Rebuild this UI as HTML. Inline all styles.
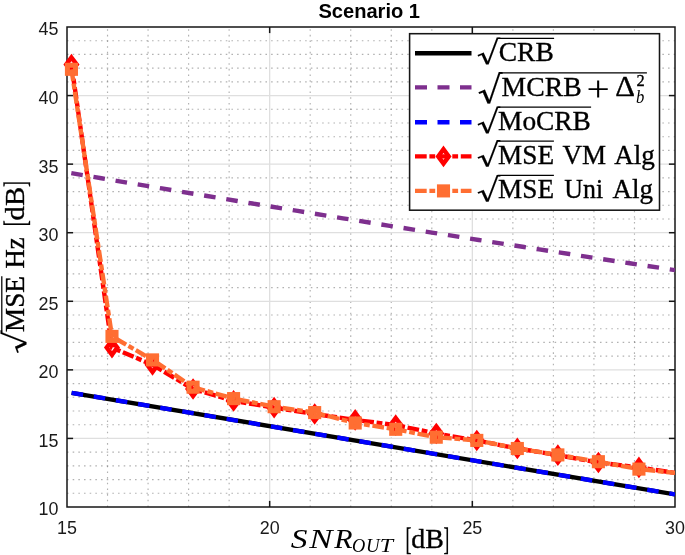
<!DOCTYPE html>
<html lang="en"><head><meta charset="utf-8"><title>Scenario 1</title>
<style>html,body{margin:0;padding:0;background:#fff;}body{width:685px;height:555px;overflow:hidden;}svg{display:block;will-change:transform;}text{white-space:pre;}</style>
</head><body>
<svg width="685" height="555" viewBox="0 0 685 555">
<rect x="0" y="0" width="685" height="555" fill="#ffffff"/>
<g fill="none" shape-rendering="auto">
<line x1="107.53" y1="507.00" x2="107.53" y2="27.00" stroke="#262626" stroke-opacity="0.36" stroke-width="1.15" stroke-dasharray="1.55 4.12"/>
<line x1="148.07" y1="507.00" x2="148.07" y2="27.00" stroke="#262626" stroke-opacity="0.36" stroke-width="1.15" stroke-dasharray="1.55 4.12"/>
<line x1="188.60" y1="507.00" x2="188.60" y2="27.00" stroke="#262626" stroke-opacity="0.36" stroke-width="1.15" stroke-dasharray="1.55 4.12"/>
<line x1="229.13" y1="507.00" x2="229.13" y2="27.00" stroke="#262626" stroke-opacity="0.36" stroke-width="1.15" stroke-dasharray="1.55 4.12"/>
<line x1="310.20" y1="507.00" x2="310.20" y2="27.00" stroke="#262626" stroke-opacity="0.36" stroke-width="1.15" stroke-dasharray="1.55 4.12"/>
<line x1="350.73" y1="507.00" x2="350.73" y2="27.00" stroke="#262626" stroke-opacity="0.36" stroke-width="1.15" stroke-dasharray="1.55 4.12"/>
<line x1="391.27" y1="507.00" x2="391.27" y2="27.00" stroke="#262626" stroke-opacity="0.36" stroke-width="1.15" stroke-dasharray="1.55 4.12"/>
<line x1="431.80" y1="507.00" x2="431.80" y2="27.00" stroke="#262626" stroke-opacity="0.36" stroke-width="1.15" stroke-dasharray="1.55 4.12"/>
<line x1="512.87" y1="507.00" x2="512.87" y2="27.00" stroke="#262626" stroke-opacity="0.36" stroke-width="1.15" stroke-dasharray="1.55 4.12"/>
<line x1="553.40" y1="507.00" x2="553.40" y2="27.00" stroke="#262626" stroke-opacity="0.36" stroke-width="1.15" stroke-dasharray="1.55 4.12"/>
<line x1="593.93" y1="507.00" x2="593.93" y2="27.00" stroke="#262626" stroke-opacity="0.36" stroke-width="1.15" stroke-dasharray="1.55 4.12"/>
<line x1="634.47" y1="507.00" x2="634.47" y2="27.00" stroke="#262626" stroke-opacity="0.36" stroke-width="1.15" stroke-dasharray="1.55 4.12"/>
<line x1="67.00" y1="493.29" x2="675.00" y2="493.29" stroke="#262626" stroke-opacity="0.36" stroke-width="1.15" stroke-dasharray="1.55 4.12"/>
<line x1="67.00" y1="479.57" x2="675.00" y2="479.57" stroke="#262626" stroke-opacity="0.36" stroke-width="1.15" stroke-dasharray="1.55 4.12"/>
<line x1="67.00" y1="465.86" x2="675.00" y2="465.86" stroke="#262626" stroke-opacity="0.36" stroke-width="1.15" stroke-dasharray="1.55 4.12"/>
<line x1="67.00" y1="452.14" x2="675.00" y2="452.14" stroke="#262626" stroke-opacity="0.36" stroke-width="1.15" stroke-dasharray="1.55 4.12"/>
<line x1="67.00" y1="424.71" x2="675.00" y2="424.71" stroke="#262626" stroke-opacity="0.36" stroke-width="1.15" stroke-dasharray="1.55 4.12"/>
<line x1="67.00" y1="411.00" x2="675.00" y2="411.00" stroke="#262626" stroke-opacity="0.36" stroke-width="1.15" stroke-dasharray="1.55 4.12"/>
<line x1="67.00" y1="397.29" x2="675.00" y2="397.29" stroke="#262626" stroke-opacity="0.36" stroke-width="1.15" stroke-dasharray="1.55 4.12"/>
<line x1="67.00" y1="383.57" x2="675.00" y2="383.57" stroke="#262626" stroke-opacity="0.36" stroke-width="1.15" stroke-dasharray="1.55 4.12"/>
<line x1="67.00" y1="356.14" x2="675.00" y2="356.14" stroke="#262626" stroke-opacity="0.36" stroke-width="1.15" stroke-dasharray="1.55 4.12"/>
<line x1="67.00" y1="342.43" x2="675.00" y2="342.43" stroke="#262626" stroke-opacity="0.36" stroke-width="1.15" stroke-dasharray="1.55 4.12"/>
<line x1="67.00" y1="328.71" x2="675.00" y2="328.71" stroke="#262626" stroke-opacity="0.36" stroke-width="1.15" stroke-dasharray="1.55 4.12"/>
<line x1="67.00" y1="315.00" x2="675.00" y2="315.00" stroke="#262626" stroke-opacity="0.36" stroke-width="1.15" stroke-dasharray="1.55 4.12"/>
<line x1="67.00" y1="287.57" x2="675.00" y2="287.57" stroke="#262626" stroke-opacity="0.36" stroke-width="1.15" stroke-dasharray="1.55 4.12"/>
<line x1="67.00" y1="273.86" x2="675.00" y2="273.86" stroke="#262626" stroke-opacity="0.36" stroke-width="1.15" stroke-dasharray="1.55 4.12"/>
<line x1="67.00" y1="260.14" x2="675.00" y2="260.14" stroke="#262626" stroke-opacity="0.36" stroke-width="1.15" stroke-dasharray="1.55 4.12"/>
<line x1="67.00" y1="246.43" x2="675.00" y2="246.43" stroke="#262626" stroke-opacity="0.36" stroke-width="1.15" stroke-dasharray="1.55 4.12"/>
<line x1="67.00" y1="219.00" x2="675.00" y2="219.00" stroke="#262626" stroke-opacity="0.36" stroke-width="1.15" stroke-dasharray="1.55 4.12"/>
<line x1="67.00" y1="205.29" x2="675.00" y2="205.29" stroke="#262626" stroke-opacity="0.36" stroke-width="1.15" stroke-dasharray="1.55 4.12"/>
<line x1="67.00" y1="191.57" x2="675.00" y2="191.57" stroke="#262626" stroke-opacity="0.36" stroke-width="1.15" stroke-dasharray="1.55 4.12"/>
<line x1="67.00" y1="177.86" x2="675.00" y2="177.86" stroke="#262626" stroke-opacity="0.36" stroke-width="1.15" stroke-dasharray="1.55 4.12"/>
<line x1="67.00" y1="150.43" x2="675.00" y2="150.43" stroke="#262626" stroke-opacity="0.36" stroke-width="1.15" stroke-dasharray="1.55 4.12"/>
<line x1="67.00" y1="136.71" x2="675.00" y2="136.71" stroke="#262626" stroke-opacity="0.36" stroke-width="1.15" stroke-dasharray="1.55 4.12"/>
<line x1="67.00" y1="123.00" x2="675.00" y2="123.00" stroke="#262626" stroke-opacity="0.36" stroke-width="1.15" stroke-dasharray="1.55 4.12"/>
<line x1="67.00" y1="109.29" x2="675.00" y2="109.29" stroke="#262626" stroke-opacity="0.36" stroke-width="1.15" stroke-dasharray="1.55 4.12"/>
<line x1="67.00" y1="81.86" x2="675.00" y2="81.86" stroke="#262626" stroke-opacity="0.36" stroke-width="1.15" stroke-dasharray="1.55 4.12"/>
<line x1="67.00" y1="68.14" x2="675.00" y2="68.14" stroke="#262626" stroke-opacity="0.36" stroke-width="1.15" stroke-dasharray="1.55 4.12"/>
<line x1="67.00" y1="54.43" x2="675.00" y2="54.43" stroke="#262626" stroke-opacity="0.36" stroke-width="1.15" stroke-dasharray="1.55 4.12"/>
<line x1="67.00" y1="40.71" x2="675.00" y2="40.71" stroke="#262626" stroke-opacity="0.36" stroke-width="1.15" stroke-dasharray="1.55 4.12"/>
<line x1="269.67" y1="27.00" x2="269.67" y2="507.00" stroke="#dfdfdf" stroke-width="1.3"/>
<line x1="472.33" y1="27.00" x2="472.33" y2="507.00" stroke="#dfdfdf" stroke-width="1.3"/>
<line x1="67.00" y1="438.43" x2="675.00" y2="438.43" stroke="#dfdfdf" stroke-width="1.3"/>
<line x1="67.00" y1="369.86" x2="675.00" y2="369.86" stroke="#dfdfdf" stroke-width="1.3"/>
<line x1="67.00" y1="301.29" x2="675.00" y2="301.29" stroke="#dfdfdf" stroke-width="1.3"/>
<line x1="67.00" y1="232.71" x2="675.00" y2="232.71" stroke="#dfdfdf" stroke-width="1.3"/>
<line x1="67.00" y1="164.14" x2="675.00" y2="164.14" stroke="#dfdfdf" stroke-width="1.3"/>
<line x1="67.00" y1="95.57" x2="675.00" y2="95.57" stroke="#dfdfdf" stroke-width="1.3"/>
</g>
<g fill="none" stroke="#161616" stroke-width="1.5">
<rect x="67.00" y="27.00" width="608.00" height="480.00"/>
<line x1="269.67" y1="507.00" x2="269.67" y2="500.90"/>
<line x1="269.67" y1="27.00" x2="269.67" y2="33.10"/>
<line x1="472.33" y1="507.00" x2="472.33" y2="500.90"/>
<line x1="472.33" y1="27.00" x2="472.33" y2="33.10"/>
<line x1="67.00" y1="438.43" x2="73.10" y2="438.43"/>
<line x1="675.00" y1="438.43" x2="668.90" y2="438.43"/>
<line x1="67.00" y1="369.86" x2="73.10" y2="369.86"/>
<line x1="675.00" y1="369.86" x2="668.90" y2="369.86"/>
<line x1="67.00" y1="301.29" x2="73.10" y2="301.29"/>
<line x1="675.00" y1="301.29" x2="668.90" y2="301.29"/>
<line x1="67.00" y1="232.71" x2="73.10" y2="232.71"/>
<line x1="675.00" y1="232.71" x2="668.90" y2="232.71"/>
<line x1="67.00" y1="164.14" x2="73.10" y2="164.14"/>
<line x1="675.00" y1="164.14" x2="668.90" y2="164.14"/>
<line x1="67.00" y1="95.57" x2="73.10" y2="95.57"/>
<line x1="675.00" y1="95.57" x2="668.90" y2="95.57"/>
</g>
<defs><clipPath id="axclip"><rect x="67.00" y="27.00" width="608.00" height="480.00"/></clipPath></defs>
<g fill="none" clip-path="url(#axclip)">
<line x1="71.60" y1="392.80" x2="675.00" y2="494.40" stroke="#000000" stroke-width="4.40"/>
<polyline points="71.30,173.10 86.39,175.68 101.48,178.25 116.58,180.81 131.67,183.37 146.76,185.91 161.86,188.45 176.95,190.98 192.04,193.51 207.13,196.02 222.23,198.53 237.32,201.03 252.41,203.52 267.50,206.01 282.60,208.48 297.69,210.95 312.78,213.41 327.87,215.86 342.97,218.31 358.06,220.74 373.15,223.17 388.24,225.59 403.34,228.01 418.43,230.41 433.52,232.81 448.61,235.20 463.71,237.58 478.80,239.96 493.89,242.32 508.98,244.68 524.07,247.03 539.17,249.37 554.26,251.71 569.35,254.03 584.45,256.35 599.54,258.66 614.63,260.97 629.72,263.26 644.82,265.55 659.91,267.83 675.00,270.10" stroke="#7e2f8e" stroke-width="4.40" stroke-dasharray="11.6 10.85" stroke-linejoin="round"/>
<line x1="71.60" y1="392.80" x2="675.00" y2="494.40" stroke="#0000ff" stroke-width="4.40" stroke-dasharray="11.6 10.85"/>
</g>
<g fill="none">
<polyline clip-path="url(#axclip)" points="71.46,64.60 111.99,347.60 152.53,364.80 193.06,389.00 233.59,400.90 274.13,407.60 314.66,414.00 355.19,419.90 395.73,425.10 436.26,433.50 476.79,440.50 517.33,448.40 557.86,455.20 598.39,462.50 638.93,467.40 675.00,472.90" stroke="#ff0000" stroke-width="4.40" stroke-dasharray="11.7 2.7 5.8 2.7" stroke-linejoin="round"/>
<path d="M71.46 57.45L76.76 64.60L71.46 71.75L66.16 64.60Z" fill="none" stroke="#ff0000" stroke-width="4.40" stroke-linejoin="miter" stroke-miterlimit="10"/>
<path d="M111.99 340.45L117.29 347.60L111.99 354.75L106.69 347.60Z" fill="none" stroke="#ff0000" stroke-width="4.40" stroke-linejoin="miter" stroke-miterlimit="10"/>
<path d="M152.53 357.65L157.83 364.80L152.53 371.95L147.23 364.80Z" fill="none" stroke="#ff0000" stroke-width="4.40" stroke-linejoin="miter" stroke-miterlimit="10"/>
<path d="M193.06 381.85L198.36 389.00L193.06 396.15L187.76 389.00Z" fill="none" stroke="#ff0000" stroke-width="4.40" stroke-linejoin="miter" stroke-miterlimit="10"/>
<path d="M233.59 393.75L238.89 400.90L233.59 408.05L228.29 400.90Z" fill="none" stroke="#ff0000" stroke-width="4.40" stroke-linejoin="miter" stroke-miterlimit="10"/>
<path d="M274.13 400.45L279.43 407.60L274.13 414.75L268.83 407.60Z" fill="none" stroke="#ff0000" stroke-width="4.40" stroke-linejoin="miter" stroke-miterlimit="10"/>
<path d="M314.66 406.85L319.96 414.00L314.66 421.15L309.36 414.00Z" fill="none" stroke="#ff0000" stroke-width="4.40" stroke-linejoin="miter" stroke-miterlimit="10"/>
<path d="M355.19 412.75L360.49 419.90L355.19 427.05L349.89 419.90Z" fill="none" stroke="#ff0000" stroke-width="4.40" stroke-linejoin="miter" stroke-miterlimit="10"/>
<path d="M395.73 417.95L401.03 425.10L395.73 432.25L390.43 425.10Z" fill="none" stroke="#ff0000" stroke-width="4.40" stroke-linejoin="miter" stroke-miterlimit="10"/>
<path d="M436.26 426.35L441.56 433.50L436.26 440.65L430.96 433.50Z" fill="none" stroke="#ff0000" stroke-width="4.40" stroke-linejoin="miter" stroke-miterlimit="10"/>
<path d="M476.79 433.35L482.09 440.50L476.79 447.65L471.49 440.50Z" fill="none" stroke="#ff0000" stroke-width="4.40" stroke-linejoin="miter" stroke-miterlimit="10"/>
<path d="M517.33 441.25L522.63 448.40L517.33 455.55L512.03 448.40Z" fill="none" stroke="#ff0000" stroke-width="4.40" stroke-linejoin="miter" stroke-miterlimit="10"/>
<path d="M557.86 448.05L563.16 455.20L557.86 462.35L552.56 455.20Z" fill="none" stroke="#ff0000" stroke-width="4.40" stroke-linejoin="miter" stroke-miterlimit="10"/>
<path d="M598.39 455.35L603.69 462.50L598.39 469.65L593.09 462.50Z" fill="none" stroke="#ff0000" stroke-width="4.40" stroke-linejoin="miter" stroke-miterlimit="10"/>
<path d="M638.93 460.25L644.23 467.40L638.93 474.55L633.63 467.40Z" fill="none" stroke="#ff0000" stroke-width="4.40" stroke-linejoin="miter" stroke-miterlimit="10"/>
<polyline clip-path="url(#axclip)" points="71.46,69.30 111.99,336.40 152.53,359.90 193.06,387.20 233.59,398.60 274.13,406.70 314.66,412.60 355.19,423.00 395.73,429.30 436.26,437.20 476.79,440.40 517.33,448.50 557.86,454.90 598.39,461.70 638.93,469.10 675.00,472.90" stroke="#ff6e32" stroke-width="4.40" stroke-dasharray="11.7 2.7 5.8 2.7" stroke-linejoin="round"/>
<rect x="67.41" y="65.25" width="8.10" height="8.10" fill="none" stroke="#ff6e32" stroke-width="5.00" stroke-linejoin="miter"/>
<rect x="107.94" y="332.35" width="8.10" height="8.10" fill="none" stroke="#ff6e32" stroke-width="5.00" stroke-linejoin="miter"/>
<rect x="148.48" y="355.85" width="8.10" height="8.10" fill="none" stroke="#ff6e32" stroke-width="5.00" stroke-linejoin="miter"/>
<rect x="189.01" y="383.15" width="8.10" height="8.10" fill="none" stroke="#ff6e32" stroke-width="5.00" stroke-linejoin="miter"/>
<rect x="229.54" y="394.55" width="8.10" height="8.10" fill="none" stroke="#ff6e32" stroke-width="5.00" stroke-linejoin="miter"/>
<rect x="270.08" y="402.65" width="8.10" height="8.10" fill="none" stroke="#ff6e32" stroke-width="5.00" stroke-linejoin="miter"/>
<rect x="310.61" y="408.55" width="8.10" height="8.10" fill="none" stroke="#ff6e32" stroke-width="5.00" stroke-linejoin="miter"/>
<rect x="351.14" y="418.95" width="8.10" height="8.10" fill="none" stroke="#ff6e32" stroke-width="5.00" stroke-linejoin="miter"/>
<rect x="391.68" y="425.25" width="8.10" height="8.10" fill="none" stroke="#ff6e32" stroke-width="5.00" stroke-linejoin="miter"/>
<rect x="432.21" y="433.15" width="8.10" height="8.10" fill="none" stroke="#ff6e32" stroke-width="5.00" stroke-linejoin="miter"/>
<rect x="472.74" y="436.35" width="8.10" height="8.10" fill="none" stroke="#ff6e32" stroke-width="5.00" stroke-linejoin="miter"/>
<rect x="513.28" y="444.45" width="8.10" height="8.10" fill="none" stroke="#ff6e32" stroke-width="5.00" stroke-linejoin="miter"/>
<rect x="553.81" y="450.85" width="8.10" height="8.10" fill="none" stroke="#ff6e32" stroke-width="5.00" stroke-linejoin="miter"/>
<rect x="594.34" y="457.65" width="8.10" height="8.10" fill="none" stroke="#ff6e32" stroke-width="5.00" stroke-linejoin="miter"/>
<rect x="634.88" y="465.05" width="8.10" height="8.10" fill="none" stroke="#ff6e32" stroke-width="5.00" stroke-linejoin="miter"/>
</g>
<g font-family='"Liberation Sans", sans-serif' font-size="17.90" fill="#1a1a1a">
<text x="58.5" y="515.40" text-anchor="end">10</text>
<text x="58.5" y="446.83" text-anchor="end">15</text>
<text x="58.5" y="378.26" text-anchor="end">20</text>
<text x="58.5" y="309.69" text-anchor="end">25</text>
<text x="58.5" y="241.11" text-anchor="end">30</text>
<text x="58.5" y="172.54" text-anchor="end">35</text>
<text x="58.5" y="103.97" text-anchor="end">40</text>
<text x="58.5" y="35.40" text-anchor="end">45</text>
<text x="67.00" y="534.3" text-anchor="middle">15</text>
<text x="269.67" y="534.3" text-anchor="middle">20</text>
<text x="472.33" y="534.3" text-anchor="middle">25</text>
<text x="675.00" y="534.3" text-anchor="middle">30</text>
</g>
<text x="369.2" y="18" text-anchor="middle" font-family='"Liberation Sans", sans-serif' font-weight="bold" font-size="20.1" fill="#000000">Scenario 1</text>
<g font-family='"Liberation Serif", serif' fill="#000000" stroke="#000000" stroke-width="0.35">
<text x="290.70" y="548.30" font-size="27.80" textLength="16.70" lengthAdjust="spacingAndGlyphs" font-style="italic" stroke="none">S</text>
<text x="309.20" y="548.30" font-size="27.80" textLength="23.30" lengthAdjust="spacingAndGlyphs" font-style="italic" stroke="none">N</text>
<text x="334.20" y="548.30" font-size="27.80" textLength="18.30" lengthAdjust="spacingAndGlyphs" font-style="italic" stroke="none">R</text>
<text x="352.10" y="551.80" font-size="18.90" textLength="13.30" lengthAdjust="spacingAndGlyphs" font-style="italic" stroke="none">O</text>
<text x="365.90" y="551.80" font-size="18.90" textLength="13.60" lengthAdjust="spacingAndGlyphs" font-style="italic" stroke="none">U</text>
<text x="379.80" y="551.80" font-size="18.90" textLength="13.30" lengthAdjust="spacingAndGlyphs" font-style="italic" stroke="none">T</text>
<text transform="translate(405.55 550.33) scale(0.1783 0.3134)" x="0" y="0" font-size="100" stroke-width="1.00">[</text>
<text x="411.20" y="548.00" font-size="27.80" textLength="32.60" lengthAdjust="spacingAndGlyphs">dB</text>
<text transform="translate(443.41 550.33) scale(0.1727 0.3134)" x="0" y="0" font-size="100" stroke-width="1.00">]</text>
</g>
<g transform="translate(23.7 352.8) rotate(-90)" font-family='"Liberation Serif", serif' fill="#000000" stroke="#000000" stroke-width="0.35">
<text transform="translate(-2.84 0.72) scale(0.3552 0.2977)" x="0" y="0" font-size="100" font-family='"DejaVu Math TeX Gyre", "DejaVu Serif", "Liberation Serif", serif'>√</text>
<line x1="20.00" y1="-21.90" x2="76.60" y2="-21.90" stroke="#000" stroke-width="1.25"/>
<text x="20.80" y="0.00" font-size="27.80" textLength="55.90" lengthAdjust="spacingAndGlyphs">MSE</text>
<text x="84.20" y="0.00" font-size="27.80" textLength="31.10" lengthAdjust="spacingAndGlyphs">Hz</text>
<text transform="translate(126.55 2.05) scale(0.1783 0.3195)" x="0" y="0" font-size="100" stroke-width="1.00">[</text>
<text x="132.40" y="0.00" font-size="27.80" textLength="33.50" lengthAdjust="spacingAndGlyphs">dB</text>
<text transform="translate(165.69 2.05) scale(0.1773 0.3195)" x="0" y="0" font-size="100" stroke-width="1.00">]</text>
</g>
<rect x="409.60" y="33.70" width="249.90" height="176.50" fill="#ffffff" stroke="#161616" stroke-width="1.55"/>
<g fill="none">
<line x1="415.00" y1="53.20" x2="471.50" y2="53.20" stroke="#000" stroke-width="4.40"/>
<line x1="415.00" y1="87.40" x2="471.50" y2="87.40" stroke="#7e2f8e" stroke-width="4.40" stroke-dasharray="12 10.5"/>
<line x1="415.00" y1="122.20" x2="471.50" y2="122.20" stroke="#0000ff" stroke-width="4.40" stroke-dasharray="12 10.5"/>
<line x1="415.00" y1="156.40" x2="471.50" y2="156.40" stroke="#ff0000" stroke-width="4.40" stroke-dasharray="11.7 2.7 5.8 2.7"/>
<path d="M443.50 149.25L448.80 156.40L443.50 163.55L438.20 156.40Z" fill="none" stroke="#ff0000" stroke-width="4.40" stroke-linejoin="miter" stroke-miterlimit="10"/>
<line x1="415.00" y1="190.90" x2="471.50" y2="190.90" stroke="#ff6e32" stroke-width="4.40" stroke-dasharray="11.7 2.7 5.8 2.7"/>
<rect x="439.45" y="186.85" width="8.10" height="8.10" fill="none" stroke="#ff6e32" stroke-width="5.00" stroke-linejoin="miter"/>
</g>
<g font-family='"Liberation Serif", serif' fill="#000000" stroke="#000000" stroke-width="0.35">
<text transform="translate(474.76 61.92) scale(0.3552 0.3105)" x="0" y="0" font-size="100" font-family='"DejaVu Math TeX Gyre", "DejaVu Serif", "Liberation Serif", serif'>√</text>
<line x1="497.60" y1="38.30" x2="554.10" y2="38.30" stroke="#000" stroke-width="1.25"/>
<text x="498.80" y="61.10" font-size="27.80" textLength="54.90" lengthAdjust="spacingAndGlyphs">CRB</text>
<text transform="translate(475.59 100.32) scale(0.3759 0.3605)" x="0" y="0" font-size="100" font-family='"DejaVu Math TeX Gyre", "DejaVu Serif", "Liberation Serif", serif'>√</text>
<line x1="499.80" y1="72.80" x2="646.90" y2="72.80" stroke="#000" stroke-width="1.25"/>
<text x="501.60" y="95.60" font-size="27.80" textLength="80.00" lengthAdjust="spacingAndGlyphs">MCRB</text>
<text x="586.60" y="101.30" font-size="35.50" textLength="23.30" lengthAdjust="spacingAndGlyphs" stroke="none">+</text>
<text x="615.20" y="96.00" font-size="28.80" textLength="19.70" lengthAdjust="spacingAndGlyphs">Δ</text>
<text x="636.60" y="86.20" font-size="17.60" textLength="8.20" lengthAdjust="spacingAndGlyphs">2</text>
<text x="636.00" y="103.40" font-size="19.30" textLength="8.30" lengthAdjust="spacingAndGlyphs" font-style="italic" stroke="none">b</text>
<text transform="translate(474.76 130.82) scale(0.3552 0.3105)" x="0" y="0" font-size="100" font-family='"DejaVu Math TeX Gyre", "DejaVu Serif", "Liberation Serif", serif'>√</text>
<line x1="497.60" y1="107.20" x2="591.10" y2="107.20" stroke="#000" stroke-width="1.25"/>
<text x="498.10" y="130.00" font-size="27.80" textLength="92.70" lengthAdjust="spacingAndGlyphs">MoCRB</text>
<text transform="translate(474.76 164.35) scale(0.3552 0.3058)" x="0" y="0" font-size="100" font-family='"DejaVu Math TeX Gyre", "DejaVu Serif", "Liberation Serif", serif'>√</text>
<line x1="497.60" y1="141.10" x2="553.90" y2="141.10" stroke="#000" stroke-width="1.25"/>
<text x="498.10" y="163.50" font-size="27.80" textLength="55.90" lengthAdjust="spacingAndGlyphs">MSE</text>
<text x="562.40" y="163.50" font-size="27.80" textLength="43.60" lengthAdjust="spacingAndGlyphs">VM</text>
<text x="614.20" y="163.50" font-size="27.80" textLength="40.70" lengthAdjust="spacingAndGlyphs">Alg</text>
<text transform="translate(474.76 198.65) scale(0.3552 0.3058)" x="0" y="0" font-size="100" font-family='"DejaVu Math TeX Gyre", "DejaVu Serif", "Liberation Serif", serif'>√</text>
<line x1="497.60" y1="175.40" x2="553.90" y2="175.40" stroke="#000" stroke-width="1.25"/>
<text x="498.10" y="197.80" font-size="27.80" textLength="55.90" lengthAdjust="spacingAndGlyphs">MSE</text>
<text x="564.30" y="197.80" font-size="27.80" textLength="38.80" lengthAdjust="spacingAndGlyphs">Uni</text>
<text x="612.40" y="197.80" font-size="27.80" textLength="40.50" lengthAdjust="spacingAndGlyphs">Alg</text>
</g>
</svg>
</body></html>
